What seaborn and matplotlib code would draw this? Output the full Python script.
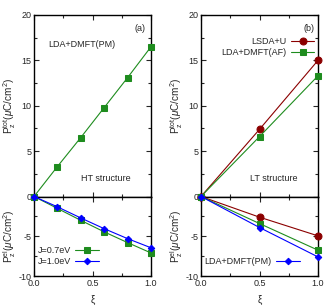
import matplotlib
matplotlib.use("Agg")
import matplotlib.pyplot as plt
import seaborn as sns
import pandas as pd
import numpy as np
from matplotlib.ticker import MultipleLocator

sns.set_theme(style="ticks")
plt.rcParams['font.family'] = ['Liberation Sans', 'DejaVu Sans']
plt.rcParams['mathtext.fontset'] = 'custom'
plt.rcParams['mathtext.rm'] = 'Liberation Sans'
plt.rcParams['mathtext.it'] = 'Liberation Sans:italic'

# Panel (a): HT structure
xi_a = [0.0, 0.2, 0.4, 0.6, 0.8, 1.0]
ptot_a = [0.0, 3.3, 6.5, 9.8, 13.1, 16.5]
pel_a_J07 = [0.0, -1.5, -3.0, -4.45, -5.8, -7.1]
pel_a_J10 = [0.0, -1.3, -2.7, -4.05, -5.3, -6.45]

# Panel (b): LT structure
xi_b = [0.0, 0.5, 1.0]
ptot_b_lsda = [0.0, 7.4, 15.0]
ptot_b_dmft_af = [0.0, 6.6, 13.3]
pel_b_lsda = [0.0, -2.6, -4.95]
pel_b_dmft_af = [0.0, -3.4, -6.75]
pel_b_dmft_pm = [0.0, -3.9, -7.6]

GREEN = '#1e8c1e'
BLUE = '#0000ff'
RED = '#8b0000'
FS = 6.5

W, H = 332, 306
fig = plt.figure(figsize=(W / 100, H / 100), dpi=100)

def ax_at(x0, y0, x1, y1):
    return fig.add_axes([x0 / W, 1 - y1 / H, (x1 - x0) / W, (y1 - y0) / H])

top_a = ax_at(34, 15, 151, 196.5)
bot_a = ax_at(34, 196.5, 151, 276)
top_b = ax_at(201, 15, 318, 196.5)
bot_b = ax_at(201, 196.5, 318, 276)

def style(ax, top):
    ax.set_xlim(0, 1)
    ax.xaxis.set_major_locator(MultipleLocator(0.5))
    ax.xaxis.set_minor_locator(MultipleLocator(0.25))
    if top:
        ax.set_ylim(0, 20)
        ax.yaxis.set_major_locator(MultipleLocator(5))
        ax.yaxis.set_minor_locator(MultipleLocator(2.5))
        ax.tick_params(axis='x', which='both', labelbottom=False)
    else:
        ax.set_ylim(-10, 0)
        ax.set_yticks([-10, -5, 0])
        ax.set_yticklabels(['-10', '-5', ''])
        ax.yaxis.set_minor_locator(MultipleLocator(2.5))
        ax.set_xticks([0, 0.5, 1.0])
        ax.set_xticklabels(['0.0', '0.5', '1.0'])
        ax.set_xlabel('ξ', fontsize=FS + 0.5, labelpad=5)
    ax.tick_params(which='both', direction='in', top=True, right=True,
                   labelsize=FS, width=0.8, pad=2)
    ax.tick_params(which='major', length=3.5)
    ax.tick_params(which='minor', length=2)
    for s in ax.spines.values():
        s.set_linewidth(1.0)
        s.set_color('black')
    ax.set_ylabel('')

def plot(ax, x, y, color, marker, ms, label=None):
    df = pd.DataFrame({'x': x, 'y': y})
    sns.lineplot(data=df, x='x', y='y', ax=ax, color=color, marker=marker,
                 markersize=ms, markeredgecolor=color, linewidth=0.8,
                 label=label, legend=bool(label), clip_on=False, zorder=3)

# Panel (a)
plot(top_a, xi_a, ptot_a, GREEN, 's', 4.6)
plot(bot_a, xi_a, pel_a_J07, GREEN, 's', 4.6, 'J=0.7eV')
plot(bot_a, xi_a, pel_a_J10, BLUE, 'D', 3.3, 'J=1.0eV')

# Panel (b)
plot(top_b, xi_b, ptot_b_lsda, RED, 'o', 5.0, 'LSDA+U')
plot(top_b, xi_b, ptot_b_dmft_af, GREEN, 's', 4.6, 'LDA+DMFT(AF)')
plot(bot_b, xi_b, pel_b_lsda, RED, 'o', 5.0)
plot(bot_b, xi_b, pel_b_dmft_af, GREEN, 's', 4.6)
plot(bot_b, xi_b, pel_b_dmft_pm, BLUE, 'D', 3.3, 'LDA+DMFT(PM)')

for ax in (top_a, top_b):
    style(ax, True)
for ax in (bot_a, bot_b):
    style(ax, False)

def leg(ax, loc, anchor):
    lg = ax.legend(loc=loc, bbox_to_anchor=anchor, markerfirst=False,
                   frameon=False, fontsize=FS, handlelength=2.6,
                   handletextpad=0.5, labelspacing=0.25, borderpad=0.2,
                   borderaxespad=0.2)
    for t in lg.get_texts():
        t.set_ha('right')
    return lg

leg(bot_a, 'lower left', (0.0, 0.08))
leg(top_b, 'upper right', (1.0, 0.9))
leg(bot_b, 'lower left', (0.0, 0.08))

# Annotations
def txt(ax, x, y, s):
    ax.text(x, y, s, transform=ax.transAxes, fontsize=FS, ha='center', va='center')

txt(top_a, 0.905, 0.925, '(a)')
txt(top_a, 0.405, 0.84, 'LDA+DMFT(PM)')
txt(top_a, 0.615, 0.10, 'HT structure')
txt(top_b, 0.92, 0.925, '(b)')
txt(top_b, 0.625, 0.10, 'LT structure')

ylab_top = r'P$^{\rm tot}_{\rm z}$($\mu$C/cm$^2$)'
ylab_bot = r'P$^{\rm el}_{\rm z}$($\mu$C/cm$^2$)'
for ax in (top_a, top_b):
    ax.set_ylabel(ylab_top, fontsize=7.2, labelpad=2)
for ax in (bot_a, bot_b):
    ax.set_ylabel(ylab_bot, fontsize=7.2, labelpad=0)

fig.savefig('out.png', dpi=100)
